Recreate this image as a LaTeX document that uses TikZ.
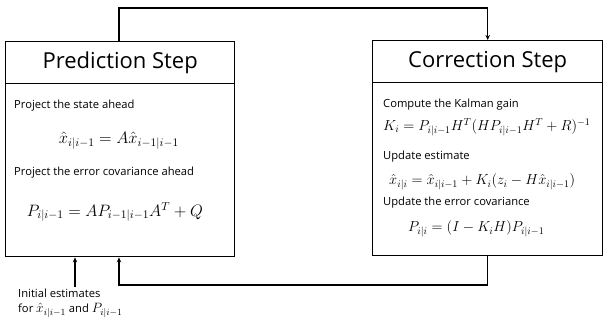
\RequirePackage{fix-cm}
\documentclass[tikz,border=0pt]{standalone}
\usepackage{fontspec}
\setmainfont{Open Sans}
\usetikzlibrary{arrows.meta}
\begin{document}
\begin{tikzpicture}[x=1pt,y=-1pt,
  box/.style={draw,line width=1.4pt,inner sep=0pt,anchor=north west},
  conn/.style={line width=1.4pt},
  arr/.style={conn,-{Stealth[length=5pt,width=4.5pt]}},
  title/.style={font=\fontsize{22}{26}\selectfont},
  body/.style={font=\fontsize{11.2}{14}\selectfont,anchor=west,inner sep=0pt},
  eq/.style={font=\fontsize{16.5}{20}\selectfont,inner sep=0pt,anchor=east},
  eqs/.style={font=\fontsize{14.5}{17}\selectfont,inner sep=0pt,anchor=west}]
\useasboundingbox (0,0) rectangle (603,322);
% left box
\node[box,minimum width=229pt,minimum height=42pt] (predhead) at (5,41) {};
\node[box,minimum width=229pt,minimum height=173pt] (predbody) at (5,83) {};
\node[title] (pt) at (predhead.center) {Prediction Step};
\node[body] (p1) at (14,106) {Project the state ahead};
\node[eq] (p2) at (179,141) {$\hat{x}_{i|i-1} = A\hat{x}_{i-1|i-1}$};
\node[body] (p3) at (14,173) {Project the error covariance ahead};
\node[eq] (p4) at (203,212) {$P_{i|i-1} = AP_{i-1|i-1}A^{T} + Q$};
% right box
\node[box,minimum width=230pt,minimum height=42pt] (corrhead) at (372,40) {};
\node[box,minimum width=230pt,minimum height=173pt] (corrbody) at (372,82) {};
\node[title] (ct) at (corrhead.center) {Correction Step};
\node[body] (c1) at (383,105) {Compute the Kalman gain};
\node[eqs] (c2) at (383,127) {$K_i = P_{i|i-1}H^{T}(HP_{i|i-1}H^{T} + R)^{-1}$};
\node[body] (c3) at (383,157) {Update estimate};
\node[eqs] (c4) at (389,182) {$\hat{x}_{i|i} = \hat{x}_{i|i-1} + K_i(z_i - H\hat{x}_{i|i-1})$};
\node[body] (c5) at (383,203) {Update the error covariance};
\node[eqs] (c6) at (408,229) {$P_{i|i} = (I - K_iH)P_{i|i-1}$};
% initial text
\node[body,anchor=north west,align=left,font=\fontsize{11.2}{15}\selectfont] (init) at (18,289) {Initial estimates\\for {\fontsize{13.5}{15}\selectfont$\hat{x}_{i|i-1}$} and {\fontsize{13.5}{15}\selectfont$P_{i|i-1}$}};
% connectors
\coordinate (t1) at (119,8);
\coordinate (t2) at (119,285);
\coordinate (i0) at (75,287);
\draw[arr] (predhead.north -| t1) -- (t1) -| (corrhead.north);
\draw[arr] (corrbody.south) |- (t2) -- (predbody.south -| t2);
\draw[arr] (i0) -- (predbody.south -| i0);
\end{tikzpicture}
\end{document}
